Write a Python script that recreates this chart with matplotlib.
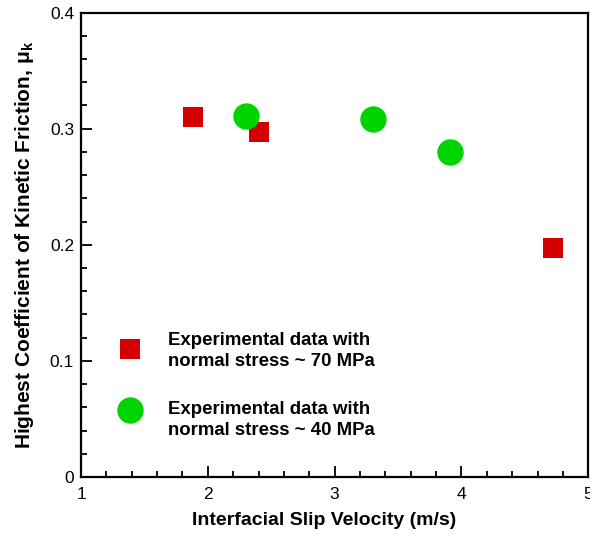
import matplotlib.pyplot as plt
from matplotlib.ticker import MultipleLocator

plt.rcParams["font.family"] = ["Liberation Sans", "DejaVu Sans"]

# data
v_70 = [1.88, 2.40, 4.72]
mu_70 = [0.310, 0.297, 0.197]
v_40 = [2.30, 3.30, 3.91]
mu_40 = [0.311, 0.308, 0.280]

label_70 = "Experimental data with\nnormal stress ~ 70 MPa"
label_40 = "Experimental data with\nnormal stress ~ 40 MPa"

red = "#d40000"
green = "#00d400"

fig = plt.figure(figsize=(5.9, 5.35), dpi=100)
ax = fig.add_axes([0.1373, 0.1084, 0.997 - 0.1373, 0.9766 - 0.1084])

ax.plot(v_70, mu_70, linestyle="none", marker="s", markersize=14.5,
        color=red, markeredgewidth=0)
ax.plot(v_40, mu_40, linestyle="none", marker="o", markersize=19,
        color=green, markeredgewidth=0)

ax.set_xlim(1, 5)
ax.set_ylim(0, 0.4)
ax.xaxis.set_major_locator(MultipleLocator(1))
ax.xaxis.set_minor_locator(MultipleLocator(0.2))
ax.yaxis.set_minor_locator(MultipleLocator(0.02))
ax.set_yticks([0, 0.1, 0.2, 0.3, 0.4])
ax.set_yticklabels(["0", "0.1", "0.2", "0.3", "0.4"])

ax.tick_params(which="both", direction="in", top=False, right=False,
               labelsize=12.5, width=1.3)
ax.tick_params(which="major", length=8)
ax.tick_params(which="minor", length=4.5)
ax.tick_params(axis="y", which="major", pad=5)
ax.tick_params(axis="x", which="major", pad=7)
for s in ax.spines.values():
    s.set_linewidth(1.6)

ax.set_xlabel("Interfacial Slip Velocity (m/s)", fontsize=14,
              fontweight="bold", labelpad=6)
ax.xaxis.set_label_coords(0.48, -0.075)
ax.set_ylabel(r"Highest Coefficient of Kinetic Friction, $\mathregular{\mu_k}$",
              fontsize=15, fontweight="bold", labelpad=10)

# hand-placed legend, as in the reference
ax.plot([0.0965], [0.2756], transform=ax.transAxes, linestyle="none",
        marker="s", markersize=14.5, color=red, markeredgewidth=0)
ax.plot([0.0965], [0.1442], transform=ax.transAxes, linestyle="none",
        marker="o", markersize=19, color=green, markeredgewidth=0)
ax.text(0.171, 0.271, label_70, transform=ax.transAxes, ha="left",
        va="center", fontsize=13.4, fontweight="bold", linespacing=1.3)
ax.text(0.171, 0.123, label_40, transform=ax.transAxes, ha="left",
        va="center", fontsize=13.4, fontweight="bold", linespacing=1.3)

fig.savefig("out.png", dpi=100)
